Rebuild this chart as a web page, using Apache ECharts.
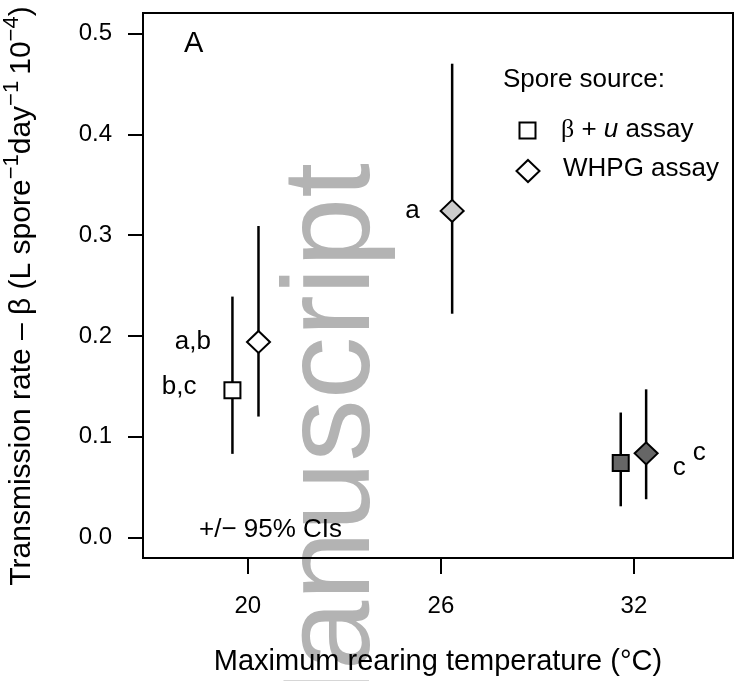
<!DOCTYPE html>
<html>
<head>
<meta charset="utf-8">
<script src="https://cdn.jsdelivr.net/npm/echarts@6/dist/echarts.min.js"></script>
<style>
html,body{margin:0;padding:0;background:#fff;}
#chart{width:735px;height:681px;}
</style>
</head>
<body>
<div id="chart"></div>
<script>
// ---- data ----
const xTicks = [20, 26, 32];
const yTicks = [0.0, 0.1, 0.2, 0.3, 0.4, 0.5];
const yTickLabels = ['0.0', '0.1', '0.2', '0.3', '0.4', '0.5'];

// beta + u assay (squares)
const sqTemp = [19.52, 31.59];
const sqBeta = [0.146, 0.074];
const sqLo   = [0.083, 0.031];
const sqHi   = [0.239, 0.124];
const sqLetters = ['b,c', 'c'];

// WHPG assay (diamonds)
const dmTemp = [20.33, 26.35, 32.38];
const dmBeta = [0.194, 0.324, 0.0835];
const dmLo   = [0.120, 0.222, 0.038];
const dmHi   = [0.309, 0.470, 0.147];
const dmLetters = ['a,b', 'a', 'c'];

// ---- styles ----
const FONT = '"Liberation Sans", Arial, Helvetica, sans-serif';
const sqFill = ['#ffffff', '#666666'];
const dmFill = ['#ffffff', '#cccccc', '#666666'];
const sqLabelPos = [
  {position: 'left', distance: 27, offset: [0, -4]},
  {position: 'right', distance: 43, offset: [0, 5]}
];
const dmLabelPos = [
  {position: 'left', distance: 35, offset: [0, 0]},
  {position: 'left', distance: 20, offset: [0, 0]},
  {position: 'right', distance: 34, offset: [0, -1]}
];

const chart = echarts.init(document.getElementById('chart'));

function barData(xs, lo, hi) {
  return xs.map((x, i) => [x, lo[i], hi[i]]);
}
function pointData(xs, ys, fills, letters, lp) {
  return xs.map((x, i) => ({
    value: [x, ys[i]],
    itemStyle: {color: fills[i]},
    label: {
      show: true,
      formatter: letters[i],
      position: lp[i].position,
      distance: lp[i].distance,
      offset: lp[i].offset,
      color: '#000',
      fontSize: 26,
      fontFamily: FONT
    }
  }));
}
const errRender = function (params, api) {
  const x = api.value(0), lo = api.value(1), hi = api.value(2);
  const p1 = api.coord([x, lo]);
  const p2 = api.coord([x, hi]);
  return {
    type: 'line',
    shape: {x1: p1[0], y1: p1[1], x2: p2[0], y2: p2[1]},
    style: {stroke: '#000', lineWidth: 2.5}
  };
};

const option = {
  animation: false,
  backgroundColor: '#fff',
  grid: {
    left: 143, top: 13, right: 2, bottom: 123,
    containLabel: false, outerBoundsMode: 'none',
    show: true, borderColor: '#000', borderWidth: 2, backgroundColor: 'transparent', z: 5
  },
  xAxis: {
    type: 'value',
    min: 16.74, max: 35.08,
    axisLine: {show: false, onZero: false},
    splitLine: {show: false},
    axisTick: {show: true, length: 16, lineStyle: {color: '#000', width: 2}, customValues: xTicks},
    axisLabel: {show: true, customValues: xTicks, margin: 36, color: '#000', fontSize: 24, fontFamily: FONT},
    name: 'Maximum rearing temperature (°C)',
    nameLocation: 'middle',
    nameGap: 89,
    nameTextStyle: {color: '#000', fontSize: 29, fontFamily: FONT}
  },
  yAxis: {
    type: 'value',
    min: -0.0203, max: 0.5203,
    axisLine: {show: false, onZero: false},
    splitLine: {show: false},
    axisTick: {show: true, length: 15, lineStyle: {color: '#000', width: 2}, customValues: yTicks},
    axisLabel: {
      show: true, customValues: yTicks, margin: 31, color: '#000', fontSize: 24, fontFamily: FONT,
      formatter: function (v) { const i = yTicks.findIndex(t => Math.abs(t - v) < 1e-9); return i >= 0 ? yTickLabels[i] : ''; }
    }
  },
  graphic: [
    {
      type: 'text', z: -10, silent: true,
      x: 335, y: 163, rotation: Math.PI / 2,
      style: {text: 'Manuscript', fill: '#b3b3b3', fontSize: 125, fontFamily: FONT, align: 'right', verticalAlign: 'middle'}
    },
    {
      type: 'text', z: 10, x: 22, y: 296, rotation: Math.PI / 2,
      style: {
        text: 'Transmission rate – β (L spore{s|−1}day{s|−1}\u200910{s|−4})',
        fill: '#000', fontSize: 30, fontFamily: FONT, lineHeight: 42, align: 'center', verticalAlign: 'middle',
        rich: {s: {fontSize: 22, fontFamily: FONT, fill: '#000', verticalAlign: 'top', lineHeight: 22}}
      }
    },
    {
      type: 'text', z: 10, x: 184, y: 44,
      style: {text: 'A', fill: '#000', fontSize: 29, fontFamily: FONT, align: 'left', verticalAlign: 'middle'}
    },
    {
      type: 'text', z: 10, x: 199, y: 530,
      style: {text: '+/− 95% CIs', fill: '#000', fontSize: 26, fontFamily: FONT, align: 'left', verticalAlign: 'middle'}
    },
    {
      type: 'text', z: 10, x: 503, y: 80,
      style: {text: 'Spore source:', fill: '#000', fontSize: 26, fontFamily: FONT, align: 'left', verticalAlign: 'middle'}
    },
    {
      type: 'rect', z: 10, shape: {x: 519.5, y: 122.5, width: 16, height: 16},
      style: {fill: '#fff', stroke: '#000', lineWidth: 2}
    },
    {
      type: 'text', z: 10, x: 561, y: 130,
      style: {
        text: '{b|β}{p| + }{i|u}{p| assay}', fill: '#000', fontSize: 26, fontFamily: FONT, align: 'left', verticalAlign: 'middle',
        rich: {
          b: {fontSize: 26, fontFamily: '"Liberation Serif", "DejaVu Serif", serif', fill: '#000'},
          p: {fontSize: 26, fontFamily: FONT, fill: '#000'},
          i: {fontSize: 26, fontFamily: FONT, fontStyle: 'italic', fill: '#000'}
        }
      }
    },
    {
      type: 'polygon', z: 10, shape: {points: [[528, 160], [539.5, 171], [528, 182], [516.5, 171]]},
      style: {fill: '#fff', stroke: '#000', lineWidth: 2}
    },
    {
      type: 'text', z: 10, x: 563, y: 169,
      style: {text: 'WHPG assay', fill: '#000', fontSize: 26, fontFamily: FONT, align: 'left', verticalAlign: 'middle'}
    }
  ],
  series: [
    {
      type: 'custom', name: 'sqCI', renderItem: errRender, z: 2,
      encode: {x: 0, y: [1, 2]},
      data: barData(sqTemp, sqLo, sqHi)
    },
    {
      type: 'custom', name: 'dmCI', renderItem: errRender, z: 2,
      encode: {x: 0, y: [1, 2]},
      data: barData(dmTemp, dmLo, dmHi)
    },
    {
      type: 'scatter', name: 'β + u assay', symbol: 'rect', symbolSize: 16, z: 3,
      itemStyle: {borderColor: '#000', borderWidth: 2, opacity: 1},
      data: pointData(sqTemp, sqBeta, sqFill, sqLetters, sqLabelPos)
    },
    {
      type: 'scatter', name: 'WHPG assay', symbol: 'diamond', symbolSize: [23, 22], z: 3,
      itemStyle: {borderColor: '#000', borderWidth: 2, opacity: 1},
      data: pointData(dmTemp, dmBeta, dmFill, dmLetters, dmLabelPos)
    }
  ]
};
chart.setOption(option);
</script>
</body>
</html>
